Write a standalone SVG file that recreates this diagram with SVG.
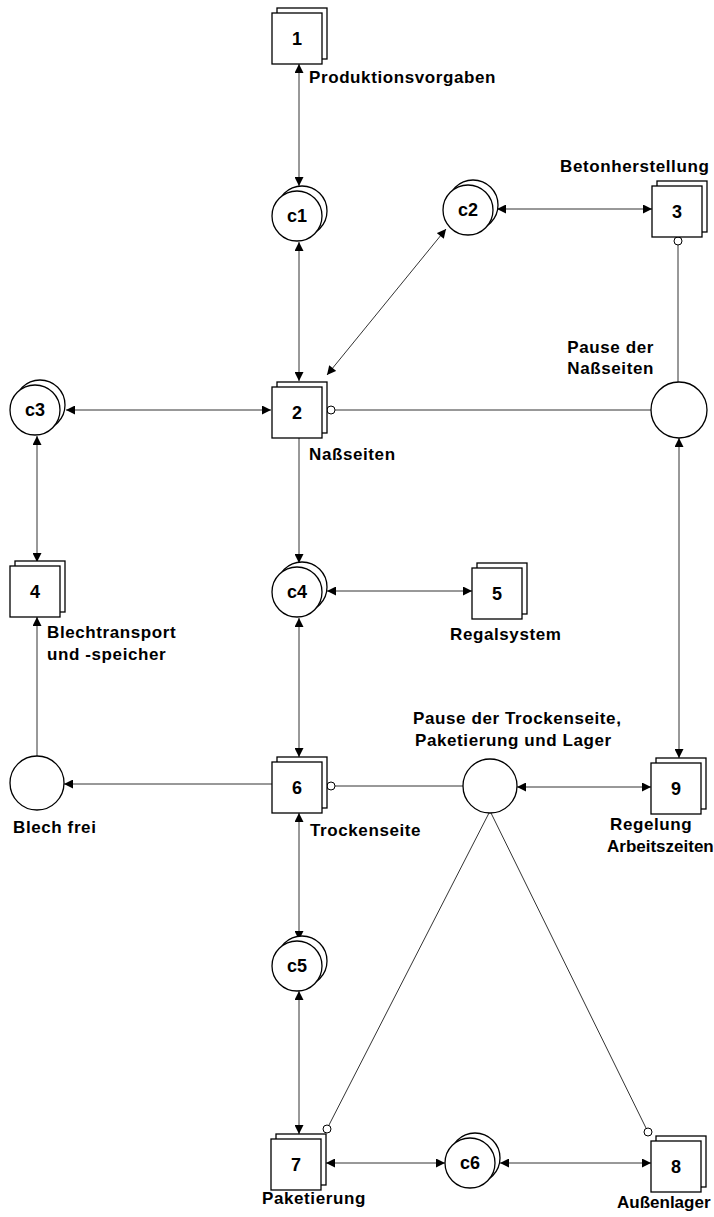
<svg xmlns="http://www.w3.org/2000/svg" width="714" height="1217" viewBox="0 0 714 1217">
<style>
.sq{fill:#fff;stroke:#000;stroke-width:1.3}
.ci{fill:#fff;stroke:#000;stroke-width:1.3}
.num{font-family:"Liberation Sans",Arial,sans-serif;font-weight:bold;font-size:18px;text-anchor:middle;fill:#000}
.lbl{font-family:"Liberation Sans",Arial,sans-serif;font-weight:bold;font-size:17px;letter-spacing:0.6px;fill:#000}
.tight{letter-spacing:0}
.cn{stroke:#333;stroke-width:1;fill:none}
.ar{stroke:#333;stroke-width:1;fill:none;marker-start:url(#ah);marker-end:url(#ah)}
.ae{stroke:#333;stroke-width:1;fill:none;marker-end:url(#ah)}
.oc{fill:#fff;stroke:#000;stroke-width:1}
</style>
<defs>
<marker id="ah" viewBox="0 0 10 10" refX="10" refY="5" markerWidth="10" markerHeight="9" markerUnits="userSpaceOnUse" orient="auto-start-reverse">
<path d="M0,0 L10,5 L0,10 Z" fill="#000"/>
</marker>
</defs>
<rect width="714" height="1217" fill="#fff"/>

<g id="connectors">
<line class="ar" x1="299" y1="64" x2="299" y2="186"/>
<line class="ar" x1="299" y1="242" x2="299" y2="381"/>
<line class="ar" x1="446" y1="229" x2="327" y2="375"/>
<line class="ar" x1="497" y1="209" x2="652" y2="209"/>
<line class="cn" x1="678" y1="245" x2="678" y2="382"/>
<circle class="oc" cx="678" cy="241" r="4"/>
<line class="cn" x1="335" y1="410" x2="651" y2="410"/>
<circle class="oc" cx="331" cy="410" r="4"/>
<line class="ar" x1="66" y1="410" x2="271" y2="410"/>
<line class="ar" x1="37" y1="436" x2="37" y2="562"/>
<line class="ae" x1="37" y1="756" x2="37" y2="617"/>
<line class="ae" x1="272" y1="784" x2="64" y2="784"/>
<line class="ae" x1="299" y1="438" x2="299" y2="563"/>
<line class="ar" x1="327" y1="591" x2="472" y2="591"/>
<line class="ar" x1="299" y1="618" x2="299" y2="757"/>
<line class="cn" x1="335" y1="786" x2="463" y2="786"/>
<circle class="oc" cx="331" cy="786" r="4"/>
<line class="ar" x1="517" y1="787" x2="651" y2="787"/>
<line class="ar" x1="679" y1="438" x2="679" y2="758"/>
<line class="ar" x1="299" y1="813" x2="299" y2="940"/>
<line class="ar" x1="299" y1="991" x2="299" y2="1134"/>
<line class="ar" x1="326" y1="1163" x2="445" y2="1163"/>
<line class="ar" x1="500" y1="1163" x2="651" y2="1163"/>
<line class="cn" x1="329" y1="1125" x2="489" y2="813"/>
<circle class="oc" cx="327" cy="1129" r="4"/>
<line class="cn" x1="646" y1="1128" x2="491" y2="813"/>
<circle class="oc" cx="648" cy="1132" r="4"/>
</g>

<g id="n1"><rect class="sq" x="277" y="8" width="50" height="51"/><rect class="sq" x="272" y="13" width="50" height="51"/><text class="num" x="297" y="45">1</text><text class="lbl" x="309" y="83">Produktionsvorgaben</text></g>
<g id="n2"><rect class="sq" x="277" y="382" width="50" height="51"/><rect class="sq" x="272" y="387" width="50" height="51"/><text class="num" x="297" y="419">2</text><text class="lbl" x="309" y="460">Naßseiten</text></g>
<g id="n3"><rect class="sq" x="657" y="181" width="50" height="51"/><rect class="sq" x="652" y="186" width="50" height="51"/><text class="num" x="677" y="218">3</text><text class="lbl" x="560" y="172">Betonherstellung</text></g>
<g id="n4"><rect class="sq" x="15" y="561" width="50" height="51"/><rect class="sq" x="10" y="566" width="50" height="51"/><text class="num" x="35" y="598">4</text><text class="lbl" x="47" y="638">Blechtransport</text><text class="lbl" x="47" y="660">und -speicher</text></g>
<g id="n5"><rect class="sq" x="477" y="563" width="50" height="51"/><rect class="sq" x="472" y="568" width="50" height="51"/><text class="num" x="497" y="600">5</text><text class="lbl" x="450" y="640">Regalsystem</text></g>
<g id="n6"><rect class="sq" x="277" y="757" width="50" height="51"/><rect class="sq" x="272" y="762" width="50" height="51"/><text class="num" x="297" y="794">6</text><text class="lbl" x="310" y="836">Trockenseite</text></g>
<g id="n7"><rect class="sq" x="276" y="1134" width="50" height="51"/><rect class="sq" x="271" y="1139" width="50" height="51"/><text class="num" x="296" y="1171">7</text><text class="lbl" x="262" y="1204">Paketierung</text></g>
<g id="n8"><rect class="sq" x="656" y="1136" width="50" height="51"/><rect class="sq" x="651" y="1141" width="50" height="51"/><text class="num" x="676" y="1173">8</text><text class="lbl tight" x="617" y="1208">Außenlager</text></g>
<g id="n9"><rect class="sq" x="656" y="758" width="50" height="51"/><rect class="sq" x="651" y="763" width="50" height="51"/><text class="num" x="676" y="795">9</text><text class="lbl" x="610" y="830">Regelung</text><text class="lbl tight" x="607" y="852" font-size="16.5">Arbeitszeiten</text></g>

<g id="c1"><circle class="ci" cx="302" cy="211" r="25"/><circle class="ci" cx="297" cy="216" r="25"/><text class="num" x="297" y="222">c1</text></g>
<g id="c2"><circle class="ci" cx="473" cy="205" r="25"/><circle class="ci" cx="468" cy="210" r="25"/><text class="num" x="468" y="216">c2</text></g>
<g id="c3"><circle class="ci" cx="40" cy="405" r="25"/><circle class="ci" cx="35" cy="410" r="25"/><text class="num" x="35" y="416">c3</text></g>
<g id="c4"><circle class="ci" cx="302" cy="587" r="25"/><circle class="ci" cx="297" cy="592" r="25"/><text class="num" x="297" y="598">c4</text></g>
<g id="c5"><circle class="ci" cx="302" cy="961" r="25"/><circle class="ci" cx="297" cy="966" r="25"/><text class="num" x="297" y="972">c5</text></g>
<g id="c6"><circle class="ci" cx="475" cy="1158" r="25"/><circle class="ci" cx="470" cy="1163" r="25"/><text class="num" x="470" y="1169">c6</text></g>

<g id="pauseNass"><circle class="ci" cx="679" cy="410" r="28"/><text class="lbl" x="654" y="353" text-anchor="end">Pause der</text><text class="lbl" x="654" y="374" text-anchor="end">Naßseiten</text></g>
<g id="pauseTrocken"><circle class="ci" cx="490" cy="786" r="27"/><text class="lbl" x="413" y="724">Pause der Trockenseite,</text><text class="lbl" x="415" y="746">Paketierung und Lager</text></g>
<g id="blechFrei"><circle class="ci" cx="37" cy="783" r="27"/><text class="lbl" x="13" y="833">Blech frei</text></g>
</svg>
